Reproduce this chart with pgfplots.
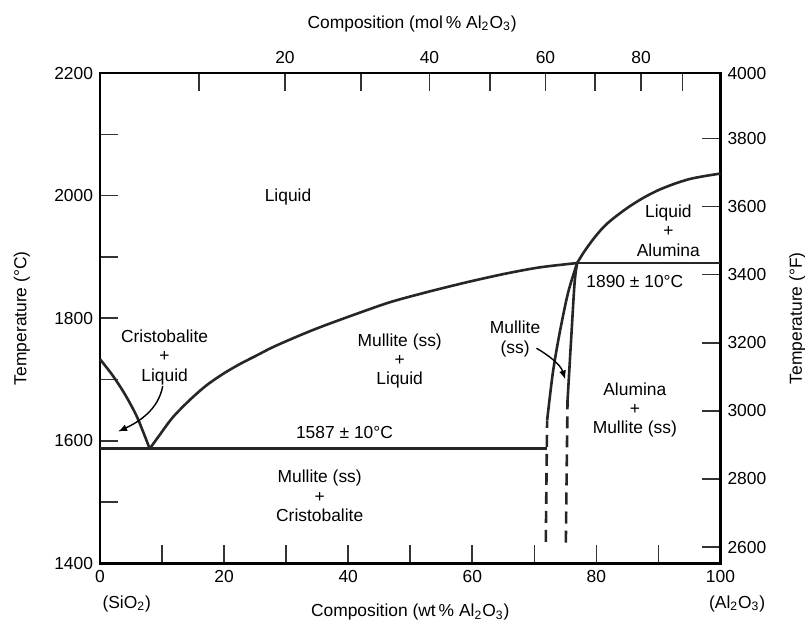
\documentclass[border=0pt]{standalone}
\usepackage{fontspec}
\setmainfont{Liberation Sans}
\usepackage{pgfplots}
\pgfplotsset{compat=1.18}
\usetikzlibrary{arrows.meta}

\pgfplotstableread{
x T
0 1733
2.0 1707
4.0 1676
6.0 1638
8.0 1587
}\cristo

\pgfplotstableread{
x T
8.0 1587
9.5 1608
11.7 1638
14.4 1666
17.1 1690
19.8 1709
22.5 1725
25.2 1739
27.9 1753
32.2 1772
35.9 1787
41.3 1807
46.7 1826
52.1 1841
56.4 1852
60.1 1861
65.5 1873
70.9 1883
76.9 1890
}\mulliq

\pgfplotstableread{
x T
76.9 1890
78.0 1908
79.5 1929
81.0 1947
82.5 1961
85.0 1980
87.5 1996
90.0 2009
92.5 2019
95.0 2027
97.5 2032
100 2036
}\alumliq

\begin{document}
\begin{tikzpicture}[font=\fontsize{8.7}{9.6}\selectfont]
\useasboundingbox (-50pt,-33pt) rectangle (352.25pt,281.5pt);
\pgfplotsset{
  common/.style={
    scale only axis, width=310pt, height=245pt,
    xmin=0, xmax=100,
    tick align=inside,
    major tick length=9pt,
    axis line style={line width=1.4pt, black},
    every tick/.style={line width=0.8pt, black!80},
    /pgf/number format/assume math mode=true,
    clip=false,
  },
  curve/.style={line width=1.3pt, black!85},
  dashcurve/.style={line width=1.3pt, black!85, dash pattern=on 6pt off 3.5pt},
}
% secondary axis: mol% on top, degF on right
\begin{axis}[common,
  ymin=2552, ymax=3992,
  xtick pos=top, xticklabel pos=top,
  ytick pos=right, yticklabel pos=right,
  xtick={15.9,29.8,42.1,53.1,62.9,71.8,79.8,87.2,93.9},
  xticklabels={,20,,40,,60,,80,},
  ytick={2600,2800,...,3800},
  yticklabels={2600,2800,3000,3200,3400,3600,3800},
  extra y ticks={3992},
  extra y tick labels={4000},
  extra y tick style={major tick length=0pt},
  xticklabel style={yshift=1pt},
]
\end{axis}
% main axis
\begin{axis}[common,
  ymin=1400, ymax=2200,
  xtick pos=bottom, ytick pos=left,
  xtick={0,10,...,100},
  xticklabels={0,,20,,40,,60,,80,,100},
  ytick={1400,1500,...,2200},
  yticklabels={1400,,1600,,1800,,2000,,2200},
]
\addplot[curve, smooth] table[x=x,y=T] {\cristo};
\addplot[curve, smooth] table[x=x,y=T] {\mulliq};
\addplot[curve, smooth] table[x=x,y=T] {\alumliq};
\addplot[curve] coordinates {(0,1587) (72.0,1587)};
\addplot[curve] coordinates {(76.9,1890) (100,1890)};
\addplot[curve, smooth] coordinates {(72.06,1633) (73.0,1712) (74.1,1777) (75.45,1842) (76.9,1890)};
\addplot[dashcurve] coordinates {(71.85,1435) (72.06,1633)};
\addplot[curve, smooth] coordinates {(76.9,1890) (76.5,1859) (76.0,1777) (75.35,1665)};
\addplot[dashcurve] coordinates {(75.08,1434) (75.35,1665)};

% arrows
\draw[line width=0.7pt, -{Latex[length=4.5pt,width=3.5pt]}] (axis cs:10.1,1689) .. controls (axis cs:9.4,1652) and (axis cs:6.5,1632) .. (axis cs:2.9,1615);
\draw[line width=0.7pt, -{Latex[length=4.5pt,width=3.5pt]}] (axis cs:70.35,1751) .. controls (axis cs:72.2,1740) and (axis cs:74.2,1725) .. (axis cs:75.0,1700);

% region labels
\node[align=center] at (axis cs:30.3,1998) {Liquid};
\node[align=center] at (axis cs:10.4,1736) {Cristobalite\\+\\Liquid};
\node[align=center] at (axis cs:48.3,1730) {Mullite (ss)\\+\\Liquid};
\node at (axis cs:39.4,1613) {1587 ± 10°C};
\node[align=center] at (axis cs:35.4,1510) {Mullite (ss)\\+\\Cristobalite};
\node[align=center] at (axis cs:91.6,1943) {Liquid\\+\\Alumina};
\node at (axis cs:86.2,1860) {1890 ± 10°C};
\node[align=center] at (axis cs:66.9,1766) {Mullite\\(ss)};
\node[align=center] at (axis cs:86.2,1650) {Alumina\\+\\Mullite (ss)};

% axis labels
\node[rotate=90] at (axis description cs:-0.126,0.5) {Temperature (°C)};
\node[rotate=90] at (axis description cs:1.124,0.5) {Temperature (°F)};
\node at (axis description cs:0.503,1.1) {Composition (mol\,\% Al\textsubscript{2}O\textsubscript{3})};
\node at (axis description cs:0.50,-0.1) {Composition (wt\,\% Al\textsubscript{2}O\textsubscript{3})};
\node at (axis description cs:0.043,-0.082) {(SiO\textsubscript{2})};
\node at (axis description cs:1.027,-0.082) {(Al\textsubscript{2}O\textsubscript{3})};
\end{axis}
\end{tikzpicture}
\end{document}
